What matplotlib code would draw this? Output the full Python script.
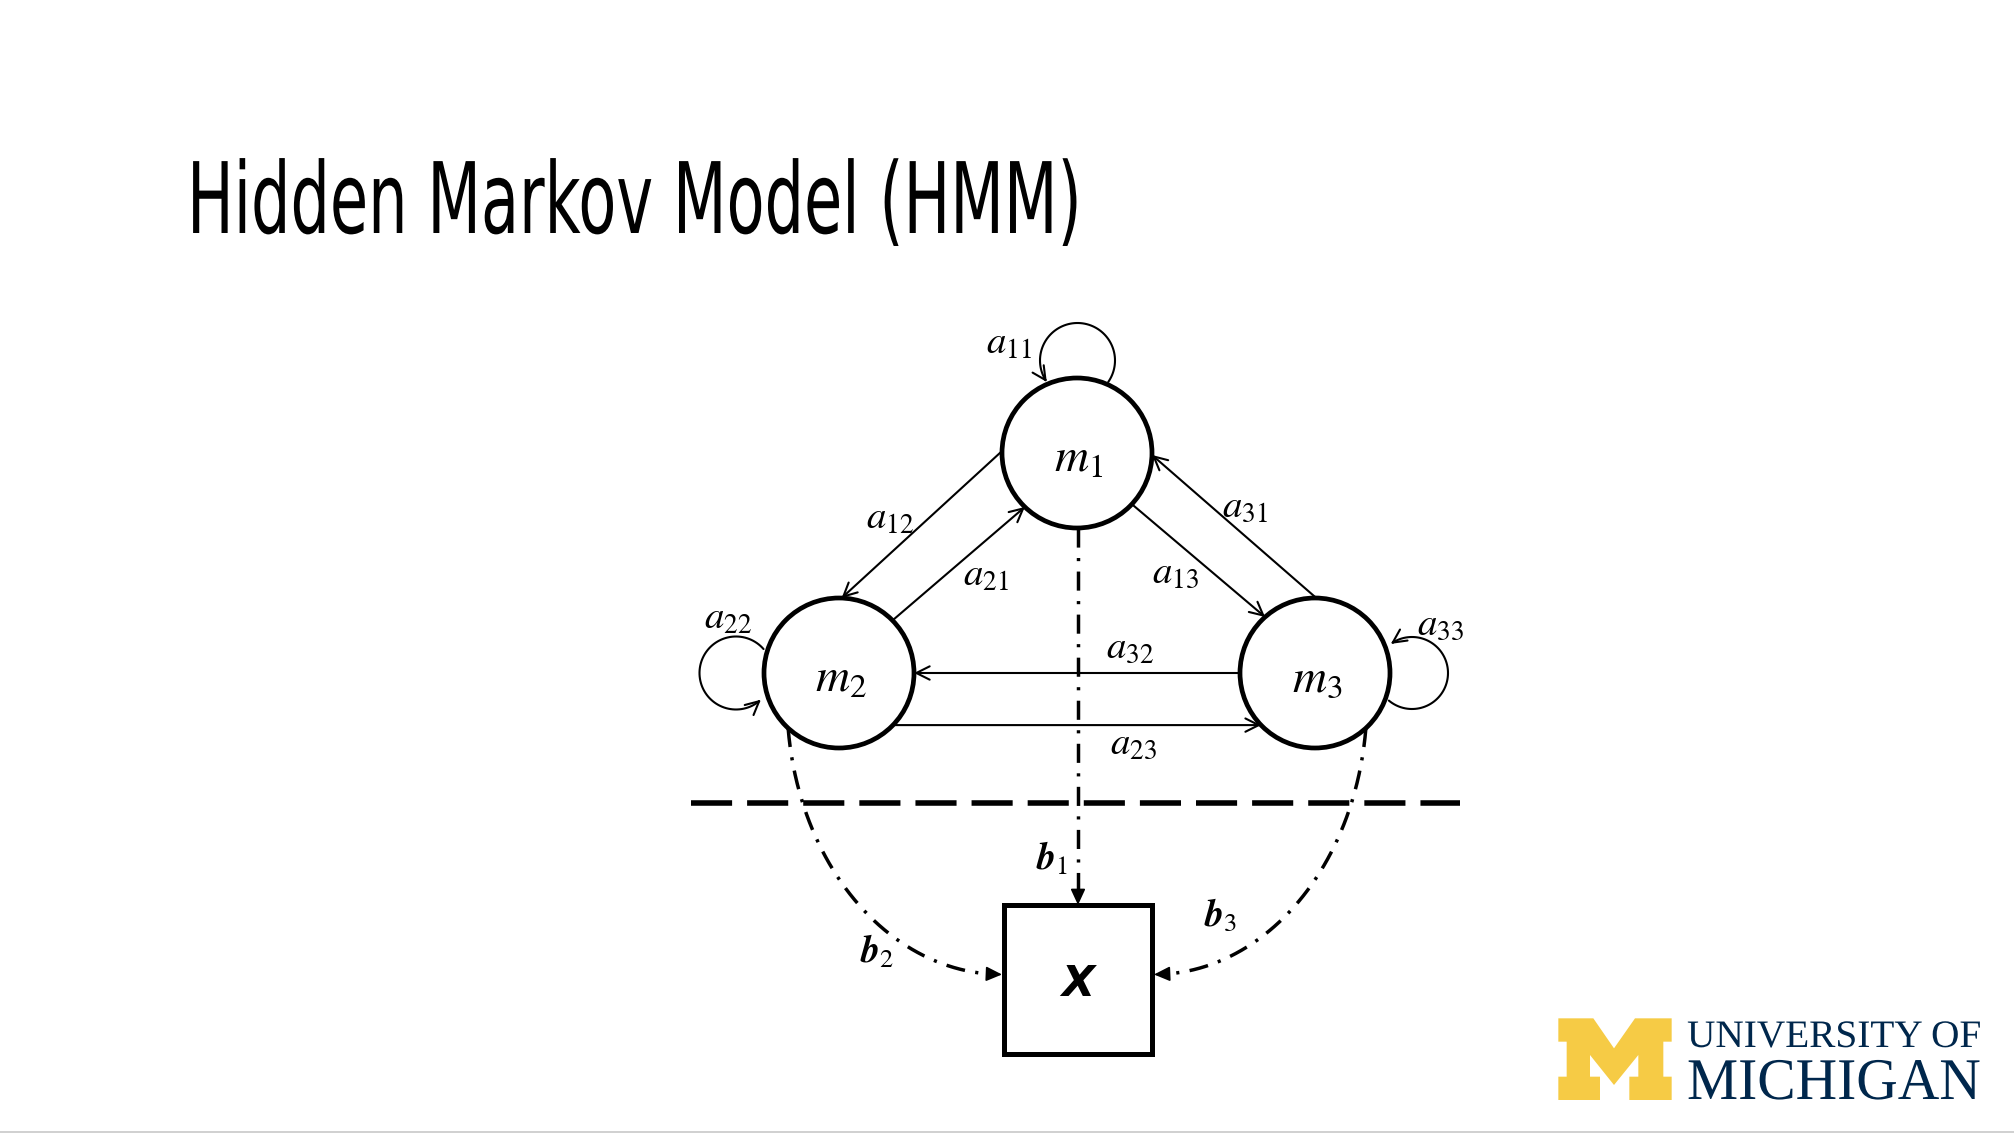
import numpy as np
import matplotlib
matplotlib.use("Agg")
import matplotlib.pyplot as plt
from matplotlib.patches import Circle, Rectangle, FancyArrowPatch, Polygon, ArrowStyle
from matplotlib.path import Path
from matplotlib.lines import Line2D
import matplotlib.patheffects as pe
from matplotlib.transforms import Affine2D

plt.rcParams['mathtext.fontset'] = 'stix'

# ---------------- data (diagram structure) ----------------
title_text = "Hidden Markov Model (HMM)"

node_labels = [r'$m_1$', r'$m_2$', r'$m_3$']
node_x = [1077, 839, 1315]
node_y = [453, 673, 673]
node_r = 75

# straight transition arrows: source node, target node, attach angles (deg)
edge_src = [0, 1, 0, 2, 2, 1]
edge_dst = [1, 0, 2, 0, 1, 2]
edge_src_ang = [178.5, 44.5, -43, 89, 180, -44]
edge_dst_ang = [88, 226, 131.7, -1.5, 0, 224]
edge_labels = [r'$a_{12}$', r'$a_{21}$', r'$a_{13}$', r'$a_{31}$', r'$a_{32}$', r'$a_{23}$']
edge_label_x = [890, 986, 1175, 1245, 1130, 1133]
edge_label_y = [518, 575, 572, 506, 647, 743]

# self loops
loop_node = [0, 1, 2]
loop_dx = [0.5, -103, 97]
loop_dy = [-92.5, 0, 0]
loop_r = [37.5, 36.5, 36]
loop_start = [-35, 41, 230]
loop_end = [215, 313, 486]
loop_labels = [r'$a_{11}$', r'$a_{22}$', r'$a_{33}$']
loop_label_x = [1009, 728, 1440]
loop_label_y = [343, 618, 624]

# emissions
emis_labels = [r'$\mathbfit{b}_1$', r'$\mathbfit{b}_2$', r'$\mathbfit{b}_3$']
emis_label_x = [1052, 877, 1221]
emis_label_y = [859, 952, 916]

obs_label = 'X'
obs_box = [1004, 905, 148, 149]   # left, top, width, height

sep_y = 803
sep_x = [691, 1460]

# ---------------- figure ----------------
W, H = 2014, 1134
fig = plt.figure(figsize=(W / 100, H / 100), dpi=100)
fig.patch.set_facecolor('white')
ax = fig.add_axes([0, 0, 1, 1])
ax.set_xlim(0, W)
ax.set_ylim(H, 0)
ax.axis('off')


class Squeeze(pe.AbstractPathEffect):
    def __init__(self, sx, x0):
        super().__init__()
        self.sx = sx
        self.x0 = x0

    def draw_path(self, renderer, gc, tpath, affine, rgbFace=None):
        extra = Affine2D().translate(-self.x0, 0).scale(self.sx, 1).translate(self.x0, 0)
        renderer.draw_path(gc, tpath, affine + extra, rgbFace)


def pt(i, ang):
    a = np.deg2rad(ang)
    return (node_x[i] + node_r * np.cos(a), node_y[i] - node_r * np.sin(a))


thin_arrow = ArrowStyle('->', head_length=0.6, head_width=0.3)
solid_head = ArrowStyle('-|>', head_length=0.65, head_width=0.3)
DD = (5.5, 3.0, 0.9, 3.0)

# straight transitions
for s, d, sa, da in zip(edge_src, edge_dst, edge_src_ang, edge_dst_ang):
    p0 = pt(s, sa)
    p1 = pt(d, da)
    ax.add_patch(FancyArrowPatch(p0, p1, arrowstyle=thin_arrow, mutation_scale=16,
                                 lw=1.5, color='black', shrinkA=0, shrinkB=0, zorder=2))
for lab, x, y in zip(edge_labels, edge_label_x, edge_label_y):
    ax.text(x, y, lab, fontsize=28, ha='center', va='center', zorder=5)

# self loops
for n, dx, dy, r, a0, a1 in zip(loop_node, loop_dx, loop_dy, loop_r, loop_start, loop_end):
    cx, cy = node_x[n] + dx, node_y[n] + dy
    t = np.deg2rad(np.linspace(a0, a1, 80))
    verts = np.column_stack([cx + r * np.cos(t), cy - r * np.sin(t)])
    ax.add_patch(FancyArrowPatch(path=Path(verts), arrowstyle=thin_arrow, mutation_scale=16,
                                 lw=1.5, color='black', zorder=2))
for lab, x, y in zip(loop_labels, loop_label_x, loop_label_y):
    ax.text(x, y, lab, fontsize=28, ha='center', va='center', zorder=5)

# nodes
for x, y, lab in zip(node_x, node_y, node_labels):
    ax.add_patch(Circle((x, y), node_r, fc='white', ec='black', lw=3.4, zorder=3))
    ax.text(x + 2, y + 6, lab, fontsize=34, ha='center', va='center', zorder=4)

# observation box
bl, bt, bw, bh = obs_box
ax.add_patch(Rectangle((bl, bt), bw, bh, fc='white', ec='black', lw=3.6, zorder=3))
ax.text(bl + bw / 2, bt + bh / 2 + 4, obs_label, fontsize=31, fontweight='bold',
        fontstyle='italic', family='DejaVu Sans', ha='center', va='center', zorder=4)


def dashdot_arrow(xs, ys, head_len=13):
    xs = np.asarray(xs, float)
    ys = np.asarray(ys, float)
    tip = (xs[-1], ys[-1])
    dist = np.hypot(xs - tip[0], ys - tip[1])
    k = np.where(dist >= head_len)[0][-1]
    ax.add_line(Line2D(xs[:k + 1], ys[:k + 1], lw=2.5, color='black',
                       dashes=DD, zorder=2))
    ax.add_patch(FancyArrowPatch((xs[k], ys[k]), tip, arrowstyle=solid_head,
                                 mutation_scale=15, lw=1.2, color='black',
                                 shrinkA=0, shrinkB=0, zorder=4))


# b1: straight down from m1
yy = np.linspace(node_y[0] + node_r, bt, 200)
dashdot_arrow(np.full_like(yy, node_x[0] + 1), yy)

# b2 / b3: elliptic arcs from m2 / m3 to sides of the box
ell_cy = 700
end_y = bt + bh / 2 - 5
t0 = np.arcsin((node_y[1] + 55 - ell_cy) / (end_y - ell_cy))
tt = np.linspace(t0, np.pi / 2, 300)
rx2 = (bl - 2) - (node_x[1] - 52)
xs2 = (bl - 2) - rx2 * np.cos(tt)
ys2 = ell_cy + (end_y - ell_cy) * np.sin(tt)
dashdot_arrow(xs2, ys2)
rx3 = (node_x[2] + 52) - (bl + bw + 2)
xs3 = (bl + bw + 2) + rx3 * np.cos(tt)
dashdot_arrow(xs3, ys2)

for lab, x, y in zip(emis_labels, emis_label_x, emis_label_y):
    ax.text(x, y, lab, fontsize=27, ha='center', va='center', zorder=5)

# separator
ax.add_line(Line2D(sep_x, [sep_y, sep_y], lw=4, color='black', dashes=(7.4, 2.7), zorder=2))

# title
title = fig.text(187 / W, 1 - 233 / H, title_text, fontsize=71, family='DejaVu Sans',
                 ha='left', va='baseline', color='black')

# logo
mx = [25, 130, 192, 255, 365, 365, 340, 340, 365, 365, 238, 238, 265, 265, 192, 120,
      120, 150, 150, 25, 25, 50, 50, 25]
my = [25, 25, 115, 25, 25, 95, 95, 200, 200, 270, 270, 200, 200, 135, 225, 135,
      200, 200, 270, 270, 200, 200, 95, 95]
ax.add_patch(Polygon(np.column_stack([1550 + np.array(mx) / 3, 1010 + np.array(my) / 3]),
                     closed=True, fc='#F6CB45', ec='none', zorder=3))
uni = fig.text(1687 / W, 1 - 1047 / H, 'UNIVERSITY OF', fontsize=28, family='Liberation Serif',
               color='#00274C', ha='left', va='baseline')
mich = fig.text(1687 / W, 1 - 1099 / H, 'MICHIGAN', fontsize=42.5, family='Liberation Serif',
                color='#00274C', ha='left', va='baseline')

ax.add_line(Line2D([0, W], [1132, 1132], lw=1.2, color='#c8c8c8'))

fig.canvas.draw()
for txt, target in [(title, 895), (uni, 294), (mich, 294)]:
    bb = txt.get_window_extent()
    txt.set_path_effects([Squeeze(target / bb.width, bb.x0)])

fig.savefig('out.png', dpi=100, facecolor='white')
